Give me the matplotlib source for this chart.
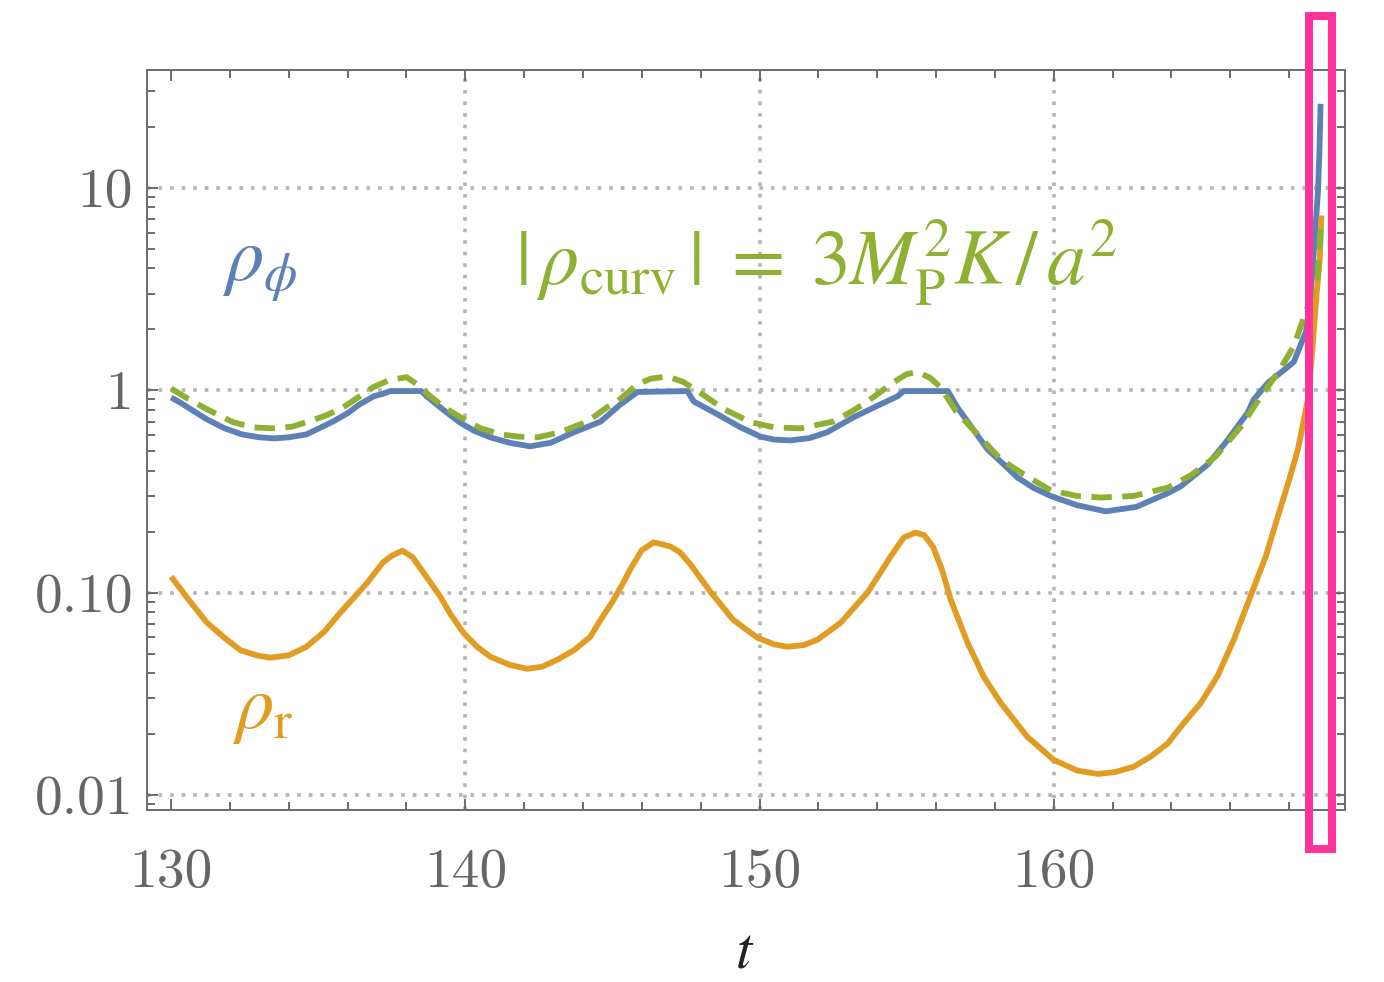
import matplotlib
matplotlib.use("Agg")
import matplotlib.pyplot as plt
from matplotlib.ticker import MultipleLocator, LogLocator, NullFormatter
from matplotlib.patches import Rectangle

# rho_phi (blue, solid)
t_phi = [130.0, 130.3, 130.7, 131.2, 131.8, 132.4, 133.0, 133.5, 134.0, 134.6,
         135.0, 135.5, 136.0, 136.4, 136.9, 137.2, 137.45, 138.5, 138.7, 138.9,
         139.3, 139.8, 140.3, 140.85, 141.5, 142.2, 142.9, 143.7, 144.6, 145.27,
         145.6, 145.85, 147.55, 147.76, 148.57, 149.35, 150.03, 150.5, 151.05, 151.7,
         152.3, 153.2, 154.1, 154.7, 154.9, 156.4, 156.73, 157.07, 157.75, 158.3,
         158.77, 159.3, 159.9, 160.8, 161.77, 162.8, 163.88, 164.32, 165.24, 165.92,
         166.6, 166.8, 167.3, 167.8, 168.16, 168.57, 168.7, 168.8, 168.9, 168.98,
         169.03, 169.07]
rho_phi = [0.92, 0.87, 0.80, 0.72, 0.65, 0.605, 0.585, 0.578, 0.585, 0.605,
           0.645, 0.70, 0.77, 0.85, 0.935, 0.96, 0.99, 0.99, 0.93, 0.88,
           0.79, 0.695, 0.63, 0.585, 0.55, 0.528, 0.55, 0.62, 0.70, 0.85,
           0.92, 0.98, 0.99, 0.88, 0.76, 0.656, 0.59, 0.57, 0.565, 0.58,
           0.62, 0.735, 0.85, 0.935, 0.99, 0.99, 0.82, 0.70, 0.51, 0.43,
           0.37, 0.33, 0.30, 0.27, 0.252, 0.265, 0.31, 0.335, 0.43, 0.57,
           0.778, 0.90, 1.095, 1.25, 1.38, 1.94, 2.6, 4.0, 6.5, 9.5,
           15.0, 26.0]

# rho_r (orange, solid)
t_r = [130.0, 130.6, 131.22, 131.8, 132.35, 132.9, 133.37, 134.0, 134.6, 135.2,
       135.75, 136.2, 136.67, 137.2, 137.5, 137.86, 138.2, 138.57, 139.15, 139.5,
       139.93, 140.4, 140.85, 141.5, 142.1, 142.6, 143.13, 143.7, 144.25, 144.6,
       145.0, 145.37, 145.6, 146.0, 146.4, 146.7, 146.97, 147.3, 147.65, 148.33,
       149.1, 149.93, 150.5, 150.95, 151.5, 151.97, 152.76, 153.67, 154.1, 154.46,
       154.9, 155.3, 155.6, 155.9, 156.2, 156.5, 157.07, 157.62, 158.2, 159.1,
       160.0, 160.8, 161.5, 162.1, 162.72, 163.3, 163.88, 164.4, 165.0, 165.58,
       166.12, 166.7, 167.2, 167.62, 168.0, 168.3, 168.64, 168.81, 168.94, 169.04,
       169.1]
rho_r = [0.12, 0.092, 0.071, 0.06, 0.052, 0.049, 0.0477, 0.049, 0.054, 0.064,
         0.0796, 0.094, 0.112, 0.141, 0.152, 0.161, 0.15, 0.126, 0.0955, 0.078,
         0.0634, 0.054, 0.0482, 0.044, 0.042, 0.043, 0.0466, 0.052, 0.0605, 0.0735,
         0.09, 0.112, 0.13, 0.162, 0.177, 0.173, 0.169, 0.158, 0.138, 0.101,
         0.0735, 0.0598, 0.0555, 0.054, 0.055, 0.0585, 0.071, 0.1, 0.125, 0.151,
         0.187, 0.198, 0.192, 0.168, 0.13, 0.092, 0.0565, 0.0384, 0.0285, 0.0194,
         0.0149, 0.0132, 0.0127, 0.013, 0.0138, 0.0155, 0.018, 0.0225, 0.0285, 0.039,
         0.0585, 0.097, 0.15, 0.238, 0.36, 0.51, 0.90, 1.73, 3.05, 4.4,
         7.3]

# |rho_curv| (green, dashed)
t_curv = [130.0, 130.5, 131.22, 132.1, 132.8, 133.47, 134.1, 134.6, 135.2, 135.75,
          136.3, 136.87, 137.4, 138.0, 138.4, 138.8, 139.3, 139.83, 140.5, 141.2,
          141.8, 142.45, 143.23, 144.15, 144.8, 145.17, 145.85, 146.3, 146.87, 147.4,
          147.9, 148.8, 149.7, 150.5, 151.4, 152.5, 153.1, 153.67, 154.56, 155.0,
          155.37, 155.8, 156.16, 156.67, 157.5, 158.2, 158.98, 159.9, 160.8, 161.6,
          162.7, 163.88, 164.66, 165.5, 166.36, 166.97, 167.65, 168.16, 168.48, 168.96,
          169.04, 169.1]
rho_curv = [1.02, 0.92, 0.805, 0.695, 0.655, 0.648, 0.66, 0.695, 0.745, 0.805,
            0.91, 1.035, 1.12, 1.16, 1.06, 0.935, 0.82, 0.735, 0.65, 0.605,
            0.59, 0.585, 0.62, 0.70, 0.82, 0.88, 1.07, 1.14, 1.17, 1.1,
            0.99, 0.805, 0.695, 0.655, 0.648, 0.70, 0.78, 0.88, 1.095, 1.2,
            1.23, 1.15, 1.03, 0.79, 0.585, 0.455, 0.384, 0.32, 0.30, 0.295,
            0.30, 0.33, 0.38, 0.47, 0.66, 0.90, 1.24, 1.65, 2.24, 3.5,
            5.2, 7.0]

x_ticks = [130, 140, 150, 160]
y_ticks = [0.01, 0.1, 1, 10]
y_tick_labels = ['0.01', '0.10', '1', '10']
grid_x = [140, 150, 160]
grid_y = [0.01, 0.1, 1, 10]

blue = '#5E81B5'
orange = '#E19C24'
green = '#8FB032'
frame = '#6b6b6b'

plt.rcParams['mathtext.fontset'] = 'stix'

fig = plt.figure(figsize=(13.84, 9.82), dpi=100)
ax = fig.add_axes([147 / 1384, 1 - 810 / 982, 1198 / 1384, 740 / 982])

for gx in grid_x:
    ax.axvline(gx, color='#b4b4b4', lw=2.6, ls=(0, (1, 2.2)), zorder=0)
for gy in grid_y:
    ax.axhline(gy, color='#b4b4b4', lw=2.6, ls=(0, (1, 2.2)), zorder=0)

ax.plot(t_phi, rho_phi, color=blue, lw=4.2, solid_joinstyle='round',
        solid_capstyle='butt', zorder=3)
ax.plot(t_r, rho_r, color=orange, lw=4.2, solid_joinstyle='round',
        solid_capstyle='butt', zorder=3)
ax.plot(t_curv, rho_curv, color=green, lw=4.2, ls=(0, (3.5, 1.8)), zorder=4)

ax.set_yscale('log')
ax.set_xlim(129.18, 169.9)
ax.set_ylim(0.00843, 38.2)

ax.set_xticks(x_ticks)
ax.set_xticklabels([str(v) for v in x_ticks], fontfamily='cmr10')
ax.xaxis.set_minor_locator(MultipleLocator(2))
ax.set_yticks(y_ticks)
ax.set_yticklabels(y_tick_labels, fontfamily='cmr10')
ax.yaxis.set_minor_locator(LogLocator(base=10, subs=range(2, 10)))
ax.yaxis.set_minor_formatter(NullFormatter())

ax.tick_params(which='both', direction='in', top=True, right=True,
               color=frame, width=1.4, labelsize=40, labelcolor='#666666')
ax.tick_params(axis='x', which='both', pad=28)
ax.tick_params(axis='y', which='both', pad=10)
ax.tick_params(which='major', length=8)
ax.tick_params(which='minor', length=5.5)
for sp in ax.spines.values():
    sp.set_color(frame)
    sp.set_linewidth(1.4)

ax.set_xlabel('$t$', fontsize=42, color='#222222')
ax.xaxis.set_label_coords(0.499, -0.19)
ax.xaxis.label.set_va('center')

ax.text(0.0626, 0.715, r'$\rho_\phi$', transform=ax.transAxes,
        fontsize=55, color=blue, ha='left', va='baseline')
ax.text(0.071, 0.111, r'$\rho_{\rm r}$', transform=ax.transAxes,
        fontsize=55, color=orange, ha='left', va='baseline')
ax.text(0.307, 0.709, r'$|\,\rho_{\rm curv}\,|\;=\;3M_{\rm P}^2K\,/\,a^2$',
        transform=ax.transAxes, fontsize=56, color=green, ha='left', va='baseline')

# highlight box
fig.add_artist(Rectangle((1309 / 1384, 1 - 849 / 982), 23 / 1384, 833 / 982,
                         transform=fig.transFigure, fill=False,
                         ec='#FF3399', lw=5.8, zorder=10))

fig.savefig('out.png', dpi=100)
